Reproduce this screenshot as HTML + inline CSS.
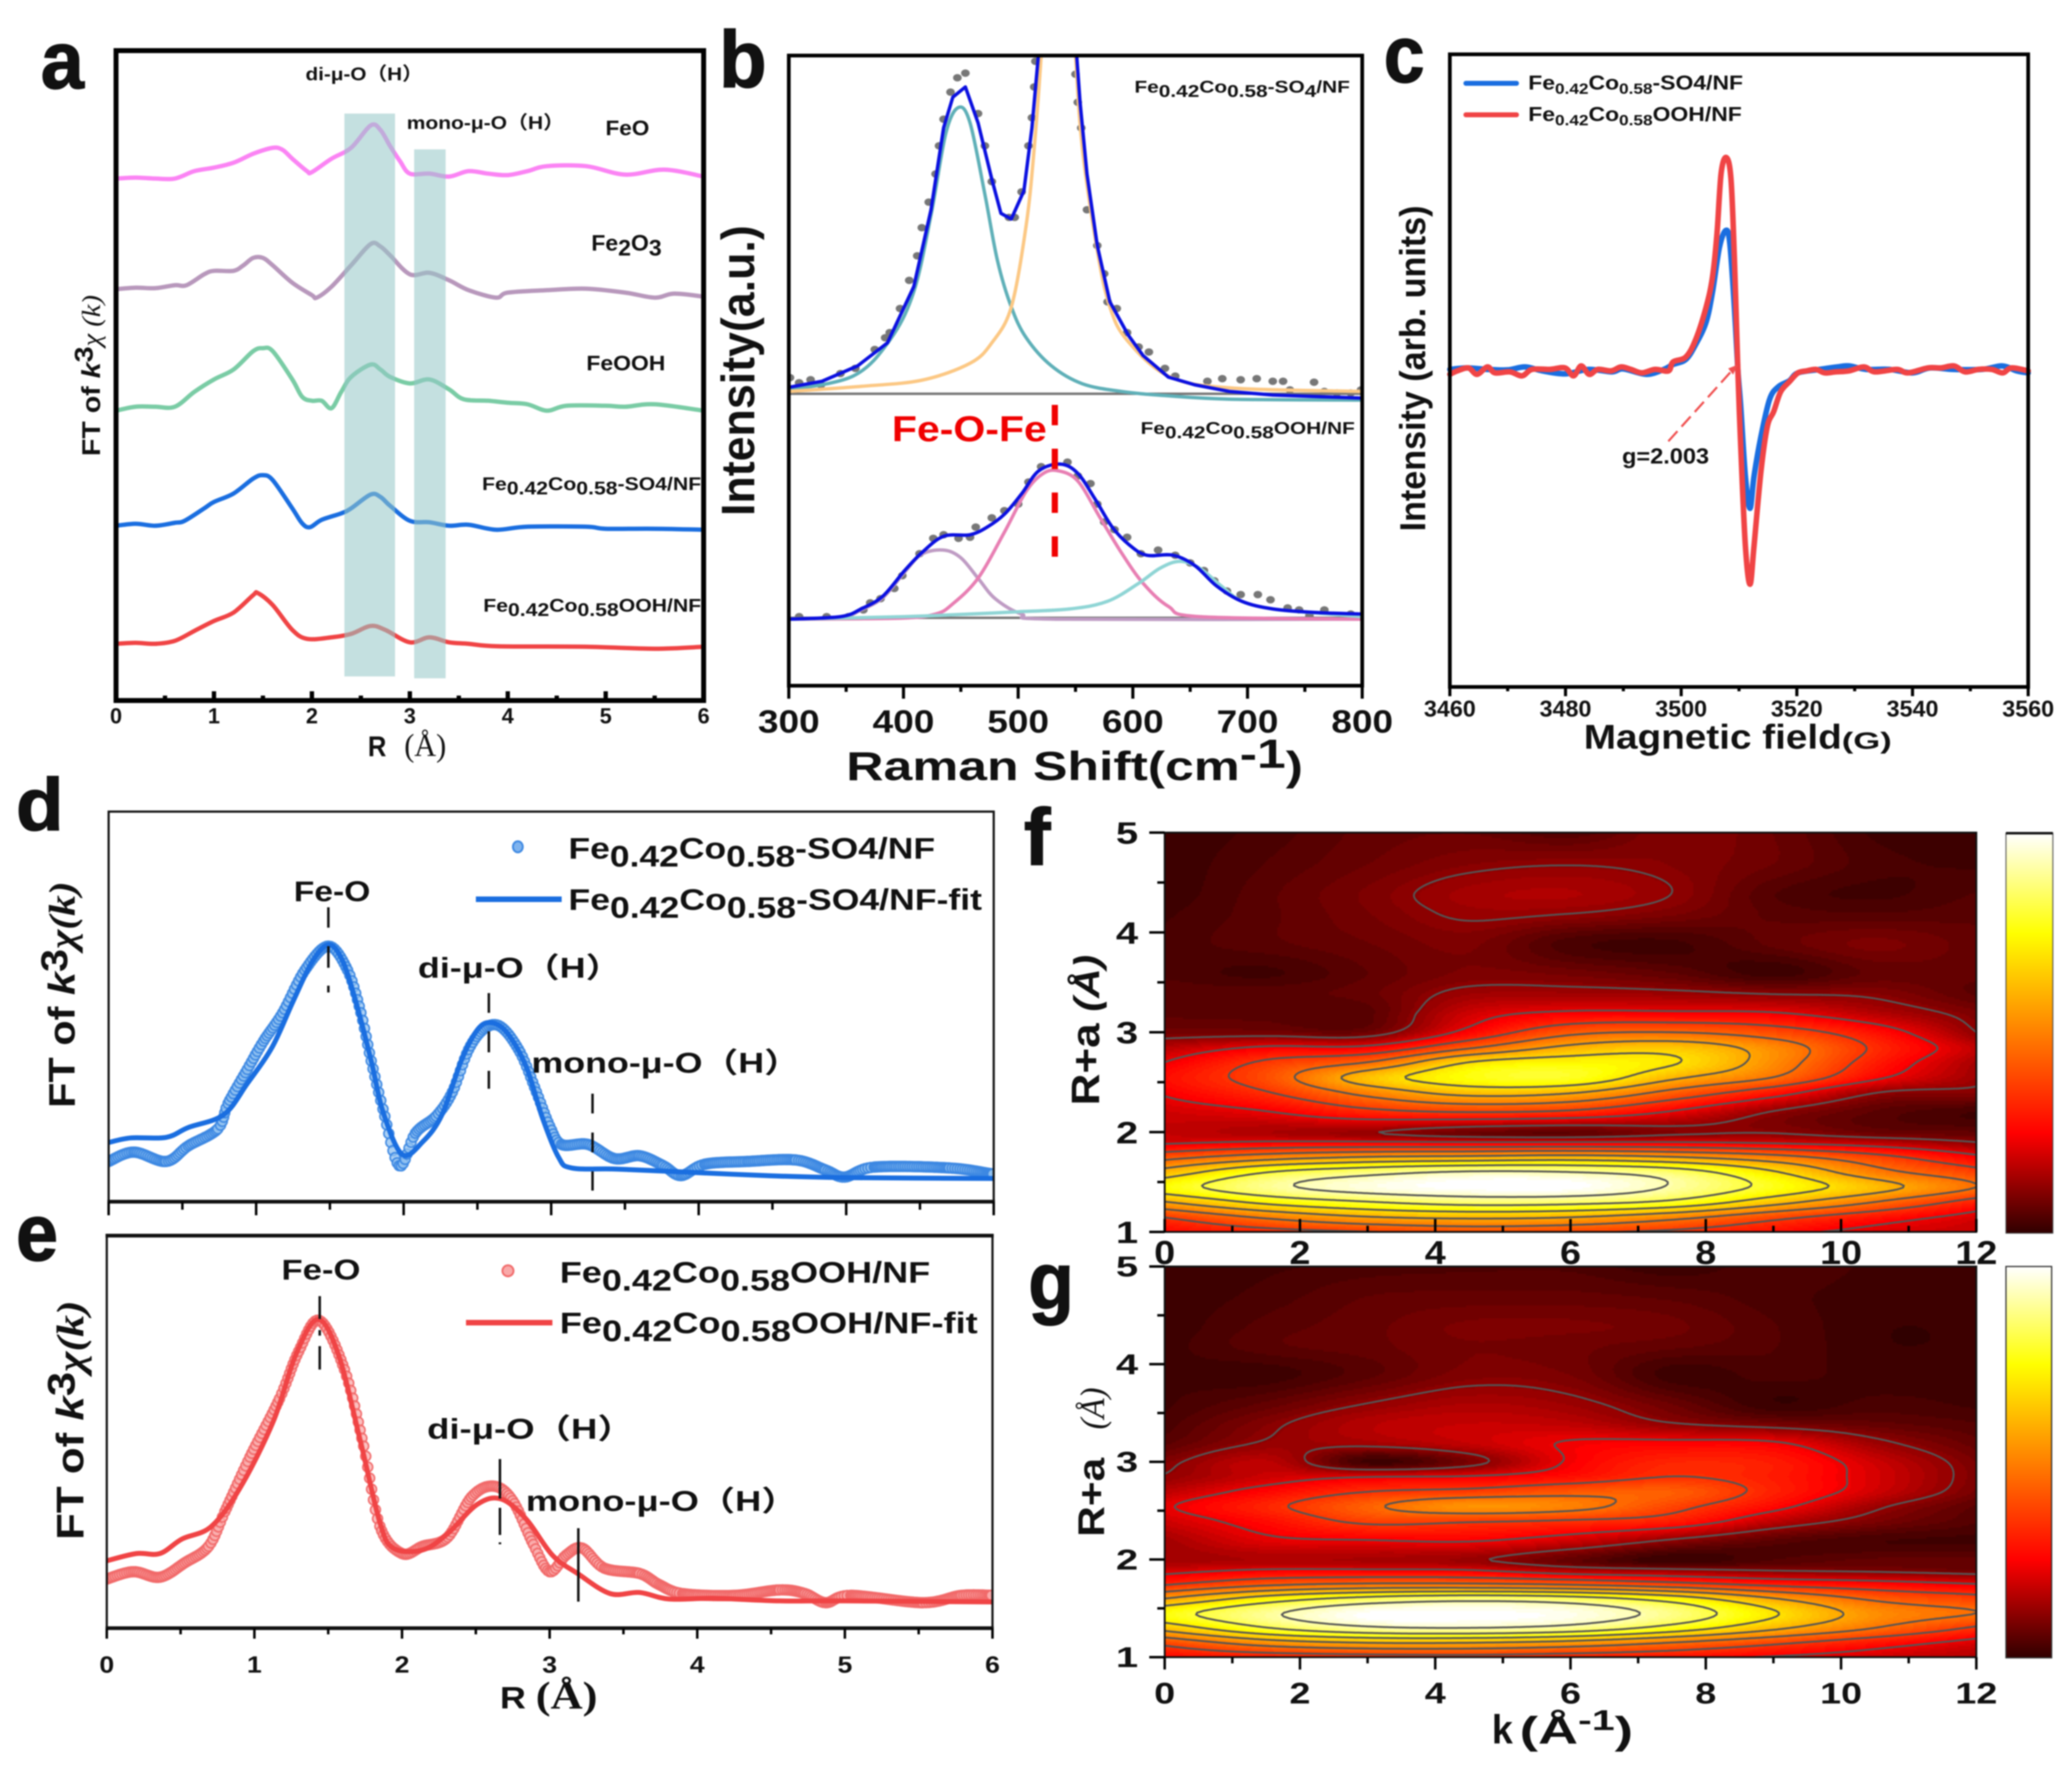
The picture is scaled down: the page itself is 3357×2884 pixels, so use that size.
<!DOCTYPE html>
<html lang="en">
<head>
<meta charset="utf-8">
<title>Fe-Co characterisation figure</title>
<style>
html,body{margin:0;padding:0;background:#fff;}
svg{display:block;font-family:"Liberation Sans","Noto Sans CJK SC",sans-serif;filter:blur(1px);}
.b{font-weight:bold;fill:#111;}
.sf{font-family:"Liberation Serif",serif;font-weight:normal;}
.sfb{font-family:"Liberation Serif",serif;font-weight:bold;}
.l{stroke:#111;stroke-width:3;}
</style>
</head>
<body>
<svg id="fig" xmlns="http://www.w3.org/2000/svg" width="3357" height="2884" viewBox="0 0 3357 2884">
<defs>
<clipPath id="clip-b"><rect x="1278" y="90" width="929" height="1021"/></clipPath>
<clipPath id="clip-d"><rect x="176" y="1315" width="1434" height="632"/></clipPath>
<clipPath id="clip-e"><rect x="173" y="2002" width="1435" height="636"/></clipPath>
<linearGradient id="cbar" x1="0" y1="1" x2="0" y2="0">
<stop offset="0" stop-color="#300000"/><stop offset="0.25" stop-color="#ff0000"/><stop offset="0.75" stop-color="#ffff00"/><stop offset="1" stop-color="#ffffff"/>
</linearGradient>
</defs>
<rect x="0" y="0" width="3357" height="2884" fill="#fff"/>

<!-- PANEL A -->
<g>
<g id="a-series"></g>
<rect x="558" y="184" width="82" height="912" fill="rgb(150,200,200)" opacity="0.56"/>
<rect x="671" y="242" width="51" height="857" fill="rgb(150,200,200)" opacity="0.56"/>
<rect x="188" y="82" width="952" height="1053" fill="none" stroke="#000" stroke-width="8"/>
<g id="a-axis"></g>
<text class="b" x="66" y="143" font-size="132" stroke="#111" stroke-width="2" textLength="70" lengthAdjust="spacingAndGlyphs">a</text>
<text class="b" x="495" y="130" font-size="30" textLength="190" lengthAdjust="spacingAndGlyphs">di-μ-O（H）</text>
<text class="b" x="659" y="209" font-size="30" textLength="255" lengthAdjust="spacingAndGlyphs">mono-μ-O（H）</text>
<text class="b" x="981" y="219" font-size="34" textLength="71" lengthAdjust="spacingAndGlyphs">FeO</text>
<text class="b" x="958" y="406" font-size="36" textLength="114" lengthAdjust="spacingAndGlyphs">Fe<tspan dy="8">2</tspan><tspan dy="-8">O</tspan><tspan dy="8">3</tspan></text>
<text class="b" x="950" y="600" font-size="34" textLength="128" lengthAdjust="spacingAndGlyphs">FeOOH</text>
<text class="b" x="781" y="794" font-size="30" textLength="355" lengthAdjust="spacingAndGlyphs">Fe<tspan dy="7">0.42</tspan><tspan dy="-7">Co</tspan><tspan dy="7">0.58</tspan><tspan dy="-7">-SO4/NF</tspan></text>
<text class="b" x="783" y="991" font-size="30" textLength="353" lengthAdjust="spacingAndGlyphs">Fe<tspan dy="7">0.42</tspan><tspan dy="-7">Co</tspan><tspan dy="7">0.58</tspan><tspan dy="-7">OOH/NF</tspan></text>
<text class="b" x="596" y="1225" font-size="46" textLength="30" lengthAdjust="spacingAndGlyphs">R</text>
<text class="sf" x="655" y="1225" font-size="52" fill="#111" textLength="68" lengthAdjust="spacingAndGlyphs">(Å)</text>
<text class="b" transform="translate(162,739) rotate(-90)" font-size="42" textLength="261" lengthAdjust="spacingAndGlyphs">FT of <tspan font-style="italic">k</tspan><tspan dy="-12">3</tspan><tspan dy="12" class="sf" font-style="italic">χ (k)</tspan></text>
</g>

<!-- PANEL B -->
<g>
<g id="b-dots" clip-path="url(#clip-b)"></g>
<line x1="1278" y1="638" x2="2207" y2="638" stroke="#777" stroke-width="4"/>
<line x1="1278" y1="1001" x2="2207" y2="1001" stroke="#777" stroke-width="4"/>
<g id="b-series" clip-path="url(#clip-b)"></g>
<rect x="1278" y="90" width="929" height="1021" fill="none" stroke="#000" stroke-width="6"/>
<g id="b-axis"></g>
<text class="b" x="1165" y="141" font-size="130" stroke="#111" stroke-width="2" textLength="77" lengthAdjust="spacingAndGlyphs">b</text>
<line x1="1709" y1="656" x2="1709" y2="912" stroke="#f00000" stroke-width="10" stroke-dasharray="33 38"/>
<text x="1445" y="715" font-size="58" font-weight="bold" fill="#f00000" textLength="251" lengthAdjust="spacingAndGlyphs">Fe-O-Fe</text>
<text class="b" x="1838" y="150" font-size="28" textLength="349" lengthAdjust="spacingAndGlyphs">Fe<tspan dy="7">0.42</tspan><tspan dy="-7">Co</tspan><tspan dy="7">0.58</tspan><tspan dy="-7">-SO</tspan><tspan dy="7">4</tspan><tspan dy="-7">/NF</tspan></text>
<text class="b" x="1848" y="703" font-size="28" textLength="347" lengthAdjust="spacingAndGlyphs">Fe<tspan dy="7">0.42</tspan><tspan dy="-7">Co</tspan><tspan dy="7">0.58</tspan><tspan dy="-7">OOH/NF</tspan></text>
<text class="b" x="1371" y="1264" font-size="66" textLength="740" lengthAdjust="spacingAndGlyphs">Raman Shift(cm<tspan dy="-20">-1</tspan><tspan dy="20">)</tspan></text>
<text class="b" transform="translate(1222,836) rotate(-90)" font-size="76" textLength="471" lengthAdjust="spacingAndGlyphs">Intensity(a.u.)</text>
</g>

<!-- PANEL C -->
<g>
<g id="c-series"></g>
<rect x="2349" y="88" width="937" height="1025" fill="none" stroke="#000" stroke-width="6"/>
<g id="c-axis"></g>
<text class="b" x="2242" y="133" font-size="130" stroke="#111" stroke-width="2" textLength="66" lengthAdjust="spacingAndGlyphs">c</text>
<line x1="2375" y1="135" x2="2457" y2="135" stroke="#1a6ee0" stroke-width="8" stroke-linecap="round"/>
<line x1="2375" y1="186" x2="2457" y2="186" stroke="#f04445" stroke-width="8" stroke-linecap="round"/>
<text class="b" x="2476" y="145" font-size="32" textLength="348" lengthAdjust="spacingAndGlyphs">Fe<tspan dy="7" font-size="24">0.42</tspan><tspan dy="-7">Co</tspan><tspan dy="7" font-size="24">0.58</tspan><tspan dy="-7">-SO4/NF</tspan></text>
<text class="b" x="2476" y="196" font-size="32" textLength="346" lengthAdjust="spacingAndGlyphs">Fe<tspan dy="7" font-size="24">0.42</tspan><tspan dy="-7">Co</tspan><tspan dy="7" font-size="24">0.58</tspan><tspan dy="-7">OOH/NF</tspan></text>
<line x1="2703" y1="715" x2="2810" y2="596" stroke="#f05050" stroke-width="3.5" stroke-dasharray="22 10"/>
<polygon points="2815,591 2800,597 2808,607" fill="#f05050"/>
<text class="b" x="2628" y="751" font-size="35" textLength="141" lengthAdjust="spacingAndGlyphs">g=2.003</text>
<text class="b" x="2566" y="1213" font-size="56" textLength="418" lengthAdjust="spacingAndGlyphs">Magnetic field</text>
<text class="b" x="2984" y="1213" font-size="38" textLength="81" lengthAdjust="spacingAndGlyphs">(G)</text>
<text class="b" transform="translate(2309,861) rotate(-90)" font-size="58" textLength="528" lengthAdjust="spacingAndGlyphs">Intensity (arb. units)</text>
</g>

<!-- PANEL D -->
<g>
<g id="d-dots" clip-path="url(#clip-d)"></g>
<g id="d-series" clip-path="url(#clip-d)"></g>
<rect x="176" y="1315" width="1434" height="632" fill="none" stroke="#111" stroke-width="3.5"/>
<line x1="174" y1="1947" x2="1612" y2="1947" stroke="#111" stroke-width="6"/>
<g id="d-axis"></g>
<text class="b" x="26" y="1345" font-size="120" stroke="#111" stroke-width="2" textLength="77" lengthAdjust="spacingAndGlyphs">d</text>
<text class="b" x="476" y="1460" font-size="46" textLength="124" lengthAdjust="spacingAndGlyphs">Fe-O</text>
<text class="b" x="677" y="1584" font-size="46" textLength="330" lengthAdjust="spacingAndGlyphs">di-μ-O（H）</text>
<text class="b" x="861" y="1738" font-size="46" textLength="435" lengthAdjust="spacingAndGlyphs">mono-μ-O（H）</text>
<path d="M532 1470V1503M532 1533V1568M532 1597V1608M792 1609V1641M792 1671V1705M792 1735V1764M960 1772V1804M960 1835V1867M960 1898V1929" stroke="#111" stroke-width="4" fill="none"/>
<ellipse cx="839" cy="1372" rx="8" ry="9" fill="#7fb3ee" stroke="#3d88e2" stroke-width="3"/>
<line x1="771" y1="1457" x2="910" y2="1457" stroke="#1a6ee0" stroke-width="9"/>
<text class="b" x="921" y="1391" font-size="48" textLength="594" lengthAdjust="spacingAndGlyphs">Fe<tspan dy="13">0.42</tspan><tspan dy="-13">Co</tspan><tspan dy="13">0.58</tspan><tspan dy="-13">-SO4/NF</tspan></text>
<text class="b" x="921" y="1474" font-size="48" textLength="670" lengthAdjust="spacingAndGlyphs">Fe<tspan dy="13">0.42</tspan><tspan dy="-13">Co</tspan><tspan dy="13">0.58</tspan><tspan dy="-13">-SO4/NF-fit</tspan></text>
<text class="b" transform="translate(121,1795) rotate(-90)" font-size="60" textLength="367" lengthAdjust="spacingAndGlyphs">FT of <tspan font-style="italic">k</tspan><tspan dy="-12">3</tspan><tspan dy="12" class="sfb" font-style="italic">χ(k)</tspan></text>
</g>

<!-- PANEL E -->
<g>
<g id="e-dots" clip-path="url(#clip-e)"></g>
<g id="e-series" clip-path="url(#clip-e)"></g>
<rect x="173" y="2002" width="1435" height="636" fill="none" stroke="#111" stroke-width="3.5"/>
<line x1="171" y1="2002" x2="1610" y2="2002" stroke="#111" stroke-width="6"/>
<line x1="171" y1="2638" x2="1610" y2="2638" stroke="#111" stroke-width="6"/>
<g id="e-axis"></g>
<text class="b" x="26" y="2042" font-size="130" stroke="#111" stroke-width="2" textLength="68" lengthAdjust="spacingAndGlyphs">e</text>
<text class="b" x="456" y="2073" font-size="46" textLength="128" lengthAdjust="spacingAndGlyphs">Fe-O</text>
<text class="b" x="692" y="2331" font-size="46" textLength="335" lengthAdjust="spacingAndGlyphs">di-μ-O（H）</text>
<text class="b" x="852" y="2448" font-size="46" textLength="440" lengthAdjust="spacingAndGlyphs">mono-μ-O（H）</text>
<path d="M518 2100V2137M518 2155V2164M518 2181V2219M810 2364V2428M810 2443V2487M810 2499V2502M937 2476V2595" stroke="#111" stroke-width="4" fill="none"/>
<ellipse cx="823" cy="2059" rx="9" ry="9" fill="#f9a9a9" stroke="#f16a6a" stroke-width="3"/>
<line x1="755" y1="2143" x2="895" y2="2143" stroke="#f04445" stroke-width="9"/>
<text class="b" x="907" y="2078" font-size="48" textLength="600" lengthAdjust="spacingAndGlyphs">Fe<tspan dy="13">0.42</tspan><tspan dy="-13">Co</tspan><tspan dy="13">0.58</tspan><tspan dy="-13">OOH/NF</tspan></text>
<text class="b" x="907" y="2160" font-size="48" textLength="677" lengthAdjust="spacingAndGlyphs">Fe<tspan dy="13">0.42</tspan><tspan dy="-13">Co</tspan><tspan dy="13">0.58</tspan><tspan dy="-13">OOH/NF-fit</tspan></text>
<text class="b" x="810" y="2768" font-size="50" textLength="42" lengthAdjust="spacingAndGlyphs">R</text>
<text class="sfb" x="868" y="2768" font-size="62" fill="#111" textLength="100" lengthAdjust="spacingAndGlyphs">(Å)</text>
<text class="b" transform="translate(135,2495) rotate(-90)" font-size="62" textLength="388" lengthAdjust="spacingAndGlyphs">FT of <tspan font-style="italic">k</tspan><tspan dy="-14">3</tspan><tspan dy="14" class="sfb" font-style="italic">χ(k)</tspan></text>
</g>

<!-- PANEL F -->
<g>
<g id="f-heat" shape-rendering="crispEdges"></g>
<g id="f-contours"></g>
<rect x="1887" y="1349" width="1315" height="647" fill="none" stroke="#111" stroke-width="3"/>
<g id="f-axis"></g>
<rect x="3250" y="1350" width="76" height="648" fill="url(#cbar)" stroke="#444" stroke-width="1.5"/>
<line x1="3250" y1="1350" x2="3326" y2="1350" stroke="#111" stroke-width="4"/>
<text class="b" x="1659" y="1401" font-size="130" stroke="#111" stroke-width="2" textLength="43" lengthAdjust="spacingAndGlyphs">f</text>
<text class="b" transform="translate(1781,1791) rotate(-90)" font-size="64" textLength="133" lengthAdjust="spacingAndGlyphs">R+a</text>
<text class="b" transform="translate(1781,1639) rotate(-90)" font-size="58" font-style="italic" textLength="92" lengthAdjust="spacingAndGlyphs">(Å)</text>
</g>

<!-- PANEL G -->
<g>
<g id="g-heat" shape-rendering="crispEdges"></g>
<g id="g-contours"></g>
<rect x="1887" y="2052" width="1315" height="633" fill="none" stroke="#111" stroke-width="3"/>
<g id="g-axis"></g>
<rect x="3250" y="2052" width="74" height="634" fill="url(#cbar)" stroke="#333" stroke-width="2"/>
<text class="b" x="1666" y="2120" font-size="130" stroke="#111" stroke-width="2" textLength="74" lengthAdjust="spacingAndGlyphs">g</text>
<text class="b" transform="translate(1789,2490) rotate(-90)" font-size="60" textLength="128" lengthAdjust="spacingAndGlyphs">R+a</text>
<text class="sf" transform="translate(1789,2316) rotate(-90)" font-size="56" fill="#111" font-style="italic" textLength="68" lengthAdjust="spacingAndGlyphs">(Å)</text>
<text class="b" x="2417" y="2825" font-size="66" textLength="34" lengthAdjust="spacingAndGlyphs">k</text>
<text class="b" x="2462" y="2825" font-size="62" textLength="184" lengthAdjust="spacingAndGlyphs">(Å<tspan dy="-22" font-size="46">-1</tspan><tspan dy="22">)</tspan></text>
</g>
</svg>

<script>
// ---------- Panel a: R (Å) and stacked FT intensity (arbitrary units)
const feoR=[0,.2,.4,.6,.8,1,1.2,1.4,1.6,1.7,1.8,1.95,2,2.2,2.4,2.6,2.7,2.8,2.9,3,3.2,3.4,3.6,3.8,4,4.2,4.4,4.8,5.2,5.6,6];
const feoI=[1053,1055,1053,1053,1068,1075,1085,1103,1115,1111,1093,1068,1066,1093,1115,1160,1151,1118,1088,1063,1063,1057,1068,1063,1060,1068,1078,1078,1061,1071,1057];
const fe2o3R=[0,.2,.4,.6,.72,.9,1,1.2,1.3,1.4,1.5,1.6,1.8,2,2.05,2.2,2.4,2.6,2.7,2.8,3,3.2,3.4,3.6,3.88,4,4.4,4.8,5.2,5.5,5.7,6];
const fe2o3I=[830,833,832,838,838,860,867,867,878,893,893,878,843,818,813,835,878,921,916,898,860,863,848,828,813,823,828,831,823,813,821,815];
const feoohR=[0,.2,.4,.6,.8,1,1.2,1.4,1.5,1.6,1.8,1.9,2,2.1,2.2,2.3,2.4,2.6,2.7,2.8,3,3.2,3.4,3.55,3.8,4,4.2,4.4,4.6,5,5.2,5.5,6];
const feoohI=[585,593,593,593,623,648,668,705,711,705,648,613,605,605,590,623,653,678,668,653,640,648,628,608,605,601,598,585,595,595,593,598,585];
const so4R=[0,.2,.4,.6,.7,.9,1,1.2,1.4,1.5,1.6,1.8,1.9,1.98,2.1,2.3,2.4,2.6,2.7,2.8,3,3.2,3.4,3.6,3.88,4.2,4.8,5,5.5,6];
const so4I=[353,357,353,359,363,388,401,418,448,455,445,388,358,350,365,378,388,416,411,393,363,360,353,355,345,351,351,347,347,345];
const oohR=[0,.2,.4,.6,.8,1,1.2,1.4,1.45,1.6,1.8,1.95,2.2,2.4,2.6,2.75,3,3.2,3.4,3.6,3.9,4.8,5.5,6];
const oohI=[115,117,115,121,141,161,178,213,217,193,143,125,128,135,151,143,118,128,118,115,110,109,105,109];
const aTicks=[0,1,2,3,4,5,6];
const aMinor=[.5,1.5,2.5,3.5,4.5,5.5];

// ---------- Panel b: Raman shift (cm-1) and intensity (arbitrary units)
const b1TotalX=[300,329,360,386,409,424,435,443,454,465,477,485,494,505,512,518,525,535,545,551,554,560,569,580,596,609,631,654,684,722,760,800];
const b1TotalI=[583,595,625,670,780,930,1090,1150,1170,1100,990,923,912,967,1090,1240,1500,1800,1500,1232,1140,1000,860,750,685,645,603,588,575,568,565,562];
const b1TealX=[300,356,388,409,424,437,448,458,471,482,494,507,529,556,590,628,684,800];
const b1TealI=[578,605,675,770,920,1080,1130,1100,960,830,740,680,625,590,575,567,560,558];
const b1OrangeX=[300,363,416,458,477,494,507,514,520,527,535,543,550,556,569,580,595,631,684,800];
const b1OrangeI=[575,585,597,630,670,740,900,1050,1230,1500,1800,1500,1232,1050,850,740,675,605,582,575];
const b1DotX=[301,309,319,328,345,358,375,384,388,397,405,412,416,422,428,431,435,441,447,454,465,471,477,492,497,503,509,512,514,515,550,552,555,560,569,575,578,586,595,605,614,628,637,665,678,694,708,722,731,737,758,767,778,790,799];
const b1DotI=[602,592,598,588,610,620,657,680,690,737,792,840,895,945,1000,1055,1107,1160,1188,1197,1118,1055,985,915,915,965,1055,1110,1170,1220,1195,1140,1090,930,860,805,750,737,690,662,652,620,605,595,600,598,600,595,595,578,593,575,572,572,578];
const b2TotalX=[300,345,363,382,401,416,435,458,473,488,503,518,537,552,567,582,597,612,635,654,673,695,722,760,800];
const b2TotalI=[130,135,150,175,225,260,292,295,310,335,375,420,433,415,365,310,275,255,255,235,195,165,150,143,140];
const b2MauveX=[300,345,363,382,401,416,435,450,465,480,503,533,800];
const b2MauveI=[130,133,148,172,222,257,265,250,210,170,140,130,130];
const b2PinkX=[300,397,428,443,465,488,507,522,535,552,571,590,609,631,658,800];
const b2PinkI=[130,132,140,160,210,300,380,415,420,400,330,260,200,155,135,130];
const b2CyanX=[300,401,458,495,545,578,605,624,641,658,677,695,722,760,800];
const b2CyanI=[130,135,140,144,150,165,200,230,243,230,195,165,150,142,135];
const b2DotX=[309,333,352,365,371,380,392,399,414,426,435,448,458,463,477,488,500,509,520,543,552,563,569,575,584,595,607,622,637,650,662,671,682,694,709,720,735,745,754,767,790];
const b2DotI=[135,135,135,148,162,170,190,215,258,288,295,288,290,310,328,342,355,398,428,437,410,395,355,320,305,290,258,265,255,240,225,205,185,178,178,168,152,148,137,148,140];
const bTicks=[300,400,500,600,700,800];
const bMinor=[350,450,550,650,750];

// ---------- Panel c: magnetic field (G) and EPR intensity (arbitrary units)
const cBlueX=[3460,3463,3466.5,3470,3473,3476,3480,3484,3488,3490,3494,3497,3498.6,3500.8,3502.5,3504.3,3505.4,3506.6,3507.7,3508.4,3509.2,3509.8,3510.3,3511.1,3511.9,3512.6,3513.8,3515.3,3516.8,3518.7,3520.2,3524,3527,3529,3532,3536,3540,3543,3547,3552,3555.5,3558,3560];
const cBlueI=[640,643,640,639,645,637,631,640,635,641,630,640,650,660,690,735,795,885,920,895,765,640,565,425,360,425,505,580,605,617,633,640,645,647,640,640,633,643,640,640,647,637,633];
const cRedX=[3460,3461.3,3463.2,3464.7,3466.5,3467.8,3470.4,3472.5,3474.2,3477.3,3479.9,3481.4,3482.7,3484.1,3485.6,3487.9,3489.6,3491.3,3493.2,3495.5,3497.8,3498.6,3500.8,3502.5,3504.3,3505.4,3506.2,3506.9,3507.8,3508.6,3509.2,3509.8,3510.3,3511.1,3511.9,3512.6,3513.8,3514.9,3516,3517.2,3518.7,3520.2,3521.7,3523.3,3524.8,3526.7,3529,3531.6,3533.5,3537.3,3539.2,3542.7,3544.9,3547.2,3549.1,3551.4,3553.7,3555.6,3557.1,3560];
const cRedI=[630,637,643,630,645,633,635,627,640,640,643,627,647,630,640,637,645,640,633,640,637,655,665,700,765,825,915,1035,1067,1025,865,640,485,285,207,285,435,525,555,595,615,633,637,640,633,635,637,645,635,640,633,643,643,647,635,640,640,633,643,637];
const cTicks=[3460,3480,3500,3520,3540,3560];
const cMinor=[3470,3490,3510,3530,3550];

// ---------- Panel d
const dFitR=[0,.15,.39,.54,.78,.94,1.11,1.25,1.38,1.49,1.58,1.67,1.78,1.86,1.99,2.13,2.26,2.39,2.5,2.59,2.7,2.83,2.94,3.05,3.14,3.45,3.89,4.46,4.99,6];
const dFitI=[209,225,227,262,307,417,547,707,847,907,857,717,497,317,167,212,307,497,607,632,597,477,297,157,119,115,105,92,85,82];
const dDataR=[0,.17,.39,.54,.74,.81,.94,1.05,1.18,1.33,1.49,1.62,1.71,1.78,1.86,1.97,2.08,2.22,2.33,2.44,2.55,2.66,2.79,2.9,2.99,3.07,3.25,3.43,3.6,3.76,3.88,4.04,4.33,4.66,4.86,4.99,5.19,5.7,6];
const dDataI=[142,175,142,197,257,347,467,567,667,817,902,817,667,497,327,127,242,302,387,537,612,617,527,387,267,202,202,152,162,127,92,132,142,147,112,87,122,119,97];

// ---------- Panel e
const eFitR=[0,.2,.36,.51,.71,.91,1.13,1.28,1.43,1.57,1.72,1.85,1.94,2.14,2.31,2.51,2.67,2.84,3.02,3.19,3.41,3.61,3.81,4.12,4.56,5,6];
const eFitI=[185,205,205,245,280,390,570,750,848,750,510,290,220,215,260,340,355,300,200,150,95,98,80,82,75,75,72];
const eDataR=[0,.18,.36,.53,.69,.8,.97,1.17,1.3,1.44,1.61,1.74,1.85,2,2.14,2.31,2.47,2.62,2.75,2.89,3,3.11,3.22,3.37,3.61,3.74,3.9,4.25,4.56,4.73,4.87,5.04,5.53,5.79,6];
const eDataI=[135,155,140,180,225,320,470,630,760,845,710,500,280,205,225,250,360,390,350,230,155,200,220,165,150,120,95,90,105,95,70,90,70,90,90];
const rTicks=[0,1,2,3,4,5,6];
const rMinor=[.5,1.5,2.5,3.5,4.5,5.5];

// ---------- Panels f / g: wavelet magnitude (0-1) on k (columns) x R (rows)
const waveletK=[0,1.5,3,4.5,6,7.5,9,10.5,12];
const waveletR=[1,1.15,1.3,1.45,1.6,1.75,1.9,2,2.2,2.4,2.55,2.7,2.85,3,3.2,3.4,3.6,3.9,4.2,4.4,4.7,5];
const waveletF=[
[.25,.30,.34,.38,.36,.32,.26,.20,.18],
[.35,.48,.57,.60,.58,.50,.38,.28,.20],
[.57,.72,.80,.85,.84,.78,.62,.46,.30],
[.75,.89,.97,1,1,.91,.77,.62,.46],
[.62,.80,.88,.93,.92,.86,.70,.50,.38],
[.42,.52,.58,.60,.62,.58,.50,.38,.25],
[.21,.24,.24,.23,.23,.23,.21,.17,.115],
[.18,.15,.12,.07,.055,.10,.11,.07,.06],
[.19,.225,.31,.345,.32,.22,.11,.05,.02],
[.24,.34,.50,.62,.59,.43,.28,.12,.10],
[.27,.40,.63,.76,.78,.60,.46,.25,.13],
[.23,.36,.46,.69,.74,.70,.52,.30,.14],
[.165,.24,.25,.44,.60,.64,.52,.33,.17],
[.085,.085,.08,.26,.43,.46,.40,.28,.115],
[.05,.05,.05,.19,.24,.24,.23,.16,.09],
[.05,.05,.065,.13,.135,.125,.105,.10,.05],
[.035,.02,.055,.09,.08,.055,.015,.06,.06],
[.03,.05,.07,.09,.03,.02,.06,.09,.06],
[.02,.05,.085,.125,.118,.09,.05,.04,.05],
[.01,.05,.09,.14,.15,.115,.04,.02,.04],
[.01,.04,.07,.10,.11,.10,.07,.03,.02],
[.01,.03,.06,.07,.045,.10,.07,.02,.015]];
const waveletG=[
[.25,.27,.29,.30,.28,.26,.22,.18,.15],
[.38,.52,.58,.58,.54,.46,.37,.28,.20],
[.62,.80,.90,.92,.88,.76,.60,.46,.33],
[.76,.90,1,1,.98,.88,.70,.53,.46],
[.575,.74,.84,.88,.85,.75,.58,.44,.38],
[.33,.43,.47,.47,.44,.38,.31,.27,.23],
[.19,.23,.23,.22,.15,.12,.10,.09,.07],
[.14,.15,.145,.125,.06,.01,.04,.06,.06],
[.14,.215,.23,.24,.19,.11,.05,.025,.02],
[.19,.27,.37,.36,.34,.30,.17,.09,.04],
[.22,.32,.44,.54,.50,.38,.26,.13,.05],
[.17,.26,.34,.37,.42,.43,.31,.19,.08],
[.12,.19,.225,.235,.28,.345,.30,.20,.09],
[.10,.17,.02,.09,.24,.32,.30,.19,.085],
[.05,.12,.14,.18,.235,.245,.235,.13,.06],
[.03,.10,.16,.18,.17,.115,.08,.06,.04],
[.02,.06,.115,.15,.13,.07,.01,.03,.02],
[.02,.015,.05,.095,.085,.015,.03,.015,.015],
[.015,.05,.065,.085,.075,.06,.04,.01,.01],
[.01,.045,.065,.09,.09,.075,.04,.01,.01],
[.01,.03,.055,.06,.06,.05,.03,.015,.01],
[.01,.02,.03,.035,.035,.012,.035,.02,.015]];
const contourLevels=[.115,.23,.345,.46,.575,.69,.805,.92];
const kTicks=[0,2,4,6,8,10,12];
const kMinor=[1,3,5,7,9,11];
const rowTicks=[1,2,3,4,5];
const rowMinor=[1.5,2.5,3.5,4.5];

// ---------- helpers
const NS='http://www.w3.org/2000/svg';
const $=id=>document.getElementById(id);
function scale(d0,d1,r0,r1){return v=>r0+(v-d0)*(r1-r0)/(d1-d0);}
function node(tag,attrs,parent){
  const el=document.createElementNS(NS,tag);
  for(const k in attrs)el.setAttribute(k,attrs[k]);
  parent.appendChild(el);
  return el;
}
function smoothD(px,py){
  let d='M'+px[0].toFixed(1)+' '+py[0].toFixed(1);
  for(let i=0;i<px.length-1;i++){
    const a=Math.max(i-1,0),b=i,c=i+1,e=Math.min(i+2,px.length-1);
    const c1x=px[b]+(px[c]-px[a])/6,c1y=py[b]+(py[c]-py[a])/6;
    const c2x=px[c]-(px[e]-px[b])/6,c2y=py[c]-(py[e]-py[b])/6;
    d+='C'+c1x.toFixed(1)+' '+c1y.toFixed(1)+' '+c2x.toFixed(1)+' '+c2y.toFixed(1)+' '+px[c].toFixed(1)+' '+py[c].toFixed(1);
  }
  return d;
}
function curve(parent,sx,sy,xs,ys,color,width,straight){
  const px=xs.map(sx),py=ys.map(sy);
  const d=straight?'M'+px.map((x,i)=>x.toFixed(1)+' '+py[i].toFixed(1)).join('L'):smoothD(px,py);
  return node('path',{d:d,fill:'none',stroke:color,'stroke-width':width,'stroke-linejoin':'round','stroke-linecap':'round'},parent);
}
function tickLine(parent,x1,y1,x2,y2,w){
  return node('line',{x1:x1,y1:y1,x2:x2,y2:y2,stroke:'#000','stroke-width':w},parent);
}
function tickText(parent,x,y,str,size,anchor,len){
  const attrs={x:x,y:y,'font-size':size,'font-weight':'bold',fill:'#111','text-anchor':anchor};
  if(len){attrs.textLength=len;attrs.lengthAdjust='spacingAndGlyphs';}
  const el=node('text',attrs,parent);
  el.textContent=str;
  return el;
}
function ringDots(parent,sx,sy,xs,ys,step,fill,stroke){
  for(let i=0;i<xs.length-1;i++){
    const n=Math.max(1,Math.ceil((xs[i+1]-xs[i])/step));
    const a=Math.max(i-1,0),e=Math.min(i+2,xs.length-1);
    for(let s=0;s<n;s++){
      const t=s/n,t2=t*t,t3=t2*t;
      const cr=(q)=>0.5*((2*q[i])+(-q[a]+q[i+1])*t+(2*q[a]-5*q[i]+4*q[i+1]-q[e])*t2+(-q[a]+3*q[i]-3*q[i+1]+q[e])*t3);
      const dot=node('circle',{cx:sx(cr(xs)).toFixed(1),cy:sy(cr(ys)).toFixed(1),r:8,fill:fill,stroke:stroke,'stroke-width':2.5,'fill-opacity':.75},parent);
      
      
    }
  }
}
function scatter(parent,sx,sy,xs,ys){
  xs.forEach((x,i)=>{
    const dot=node('ellipse',{cx:sx(x).toFixed(1),cy:sy(ys[i]).toFixed(1),rx:7,ry:6,fill:'#777'},parent);
    
    
  });
}

// ---------- panel a
{
  const sx=scale(0,6,188,1140),sy=scale(0,1310,1135.5,82.8),g=$('a-series');
  let el;
  el=curve(g,sx,sy,feoR,feoI,'#fb84f4',7);
  
  
  el=curve(g,sx,sy,fe2o3R,fe2o3I,'#b898bc',7);
  
  
  el=curve(g,sx,sy,feoohR,feoohI,'#7acca5',7);
  
  
  el=curve(g,sx,sy,so4R,so4I,'#1a6ee0',7);
  
  
  el=curve(g,sx,sy,oohR,oohI,'#f04445',7);
  
  
  const ax=$('a-axis');
  aTicks.forEach(v=>{
    const t=tickLine(ax,sx(v),1135,sx(v),1120,7);
    
    
    const l=tickText(ax,sx(v),1172,String(v),35,'middle');
    
    
  });
  aMinor.forEach(v=>{
    const t=tickLine(ax,sx(v),1135,sx(v),1127,7);
    
    
  });
}

// ---------- panel b
{
  const sx=scale(300,800,1278,2207),sy=scale(0,1232,1111,89.5),g=$('b-series'),dots=$('b-dots');
  scatter(dots,sx,sy,b1DotX,b1DotI);
  scatter(dots,sx,sy,b2DotX,b2DotI);
  let el;
  el=curve(g,sx,sy,b1TealX,b1TealI,'#5fb0b8',5.5);
  
  
  el=curve(g,sx,sy,b1OrangeX,b1OrangeI,'#fcc884',5.5);
  
  
  el=curve(g,sx,sy,b1TotalX,b1TotalI,'#0b10e0',5.5,true);
  
  
  el=curve(g,sx,sy,b2MauveX,b2MauveI,'#bf9cc4',5.5);
  
  
  el=curve(g,sx,sy,b2PinkX,b2PinkI,'#e87fb3',5.5);
  
  
  el=curve(g,sx,sy,b2CyanX,b2CyanI,'#8fd5d5',5.5);
  
  
  el=curve(g,sx,sy,b2TotalX,b2TotalI,'#0b10e0',5.5);
  
  
  const ax=$('b-axis');
  bTicks.forEach(v=>{
    const t=tickLine(ax,sx(v),1111,sx(v),1132,5);
    
    
    const l=tickText(ax,sx(v),1187,String(v),52,'middle',100);
    
    
  });
  bMinor.forEach(v=>{
    const t=tickLine(ax,sx(v),1111,sx(v),1121,5);
    
    
  });
}

// ---------- panel c
{
  const sx=scale(3460,3560,2349,3286),sy=scale(0,1275,1113,88),g=$('c-series');
  let el;
  el=curve(g,sx,sy,cBlueX,cBlueI,'#1a6ee0',9);
  
  
  el=curve(g,sx,sy,cRedX,cRedI,'#f04445',9);
  
  
  const ax=$('c-axis');
  cTicks.forEach(v=>{
    const t=tickLine(ax,sx(v),1113,sx(v),1128,5);
    
    
    const l=tickText(ax,sx(v),1161,String(v),37,'middle',84);
    
    
  });
  cMinor.forEach(v=>{
    const t=tickLine(ax,sx(v),1113,sx(v),1120,5);
    
    
  });
}

// ---------- panel d
{
  const sx=scale(0,6,176,1610),sy=scale(0,1377,1947,1315);
  ringDots($('d-dots'),sx,sy,dDataR,dDataI,.014,'#8fc0f0','#3d88e2');
  const el=curve($('d-series'),sx,sy,dFitR,dFitI,'#1a6ee0',8);
  
  
  const ax=$('d-axis');
  rTicks.forEach(v=>{
    const t=tickLine(ax,sx(v),1947,sx(v),1969,4);
    
    
  });
  rMinor.forEach(v=>{
    const t=tickLine(ax,sx(v),1947,sx(v),1960,4);
    
    
  });
}

// ---------- panel e
{
  const sx=scale(0,6,173,1608),sy=scale(0,1078,2638,2002);
  ringDots($('e-dots'),sx,sy,eDataR,eDataI,.014,'#f9a9a9','#f16a6a');
  const el=curve($('e-series'),sx,sy,eFitR,eFitI,'#f04445',8);
  
  
  const ax=$('e-axis');
  rTicks.forEach(v=>{
    const t=tickLine(ax,sx(v),2638,sx(v),2655,4);
    
    
    const l=tickText(ax,sx(v),2710,String(v),38,'middle',24);
    
    
  });
  rMinor.forEach(v=>{
    const t=tickLine(ax,sx(v),2638,sx(v),2648,4);
    
    
  });
}

// ---------- wavelet maps
function hermite(xs,ys,x){
  let i=0;
  while(i<xs.length-2&&x>xs[i+1])i++;
  const h=xs[i+1]-xs[i],t=(x-xs[i])/h;
  const m0=i>0?(ys[i+1]-ys[i-1])/(xs[i+1]-xs[i-1]):(ys[i+1]-ys[i])/h;
  const m1=i<xs.length-2?(ys[i+2]-ys[i])/(xs[i+2]-xs[i]):(ys[i+1]-ys[i])/h;
  const t2=t*t,t3=t2*t;
  return (2*t3-3*t2+1)*ys[i]+(t3-2*t2+t)*h*m0+(-2*t3+3*t2)*ys[i+1]+(t3-t2)*h*m1;
}
function hot(t){
  t=Math.max(0,Math.min(1,t));
  let r,g,b;
  if(t<.25){r=48+207*t/.25;g=0;b=0;}
  else if(t<.75){r=255;g=255*(t-.25)/.5;b=0;}
  else{r=255;g=255;b=255*(t-.75)/.25;}
  return 'rgb('+Math.round(r)+','+Math.round(g)+','+Math.round(b)+')';
}
function waveletMap(heatG,contourG,Z,sxInv,syInv,x0,x1,y0,y1){
  const cw=3,ch=3,nx=Math.ceil((x1-x0)/cw),ny=Math.ceil((y1-y0)/ch);
  const W=(x1-x0)/nx,H=(y1-y0)/ny;
  const field=[];
  for(let j=0;j<=ny;j++){
    const r=syInv(y0+j*H);
    const colVals=waveletK.map((_,c)=>hermite(waveletR,Z.map(row=>row[c]),r));
    const row=new Float64Array(nx+1);
    for(let i=0;i<=nx;i++)row[i]=hermite(waveletK,colVals,sxInv(x0+i*W));
    field.push(row);
  }
  const frag=document.createDocumentFragment();
  const bands=64;
  for(let j=0;j<ny;j++){
    let start=0,q=Math.round(Math.max(0,Math.min(1,field[j][0]))*bands);
    for(let i=1;i<=nx;i++){
      const qi=i<nx?Math.round(Math.max(0,Math.min(1,field[j][i]))*bands):-1;
      if(qi!==q){
        const cell=document.createElementNS(NS,'rect');
        cell.setAttribute('x',(x0+start*W).toFixed(1));
        cell.setAttribute('y',(y0+j*H).toFixed(1));
        cell.setAttribute('width',((i-start)*W+.6).toFixed(1));
        cell.setAttribute('height',(H+.6).toFixed(1));
        cell.setAttribute('fill',hot(q/bands));
        
        
        frag.appendChild(cell);
        start=i;q=qi;
      }
    }
  }
  heatG.appendChild(frag);
  contourLevels.forEach(lv=>{
    let d='';
    const lerp=(a,b)=>(lv-a)/(b-a);
    for(let j=0;j<ny;j++)for(let i=0;i<nx;i++){
      const a=field[j][i],b=field[j][i+1],c=field[j+1][i+1],e=field[j+1][i];
      const code=(a>=lv?8:0)|(b>=lv?4:0)|(c>=lv?2:0)|(e>=lv?1:0);
      if(code===0||code===15)continue;
      const X=x0+i*W,Y=y0+j*H;
      const top=()=>[X+lerp(a,b)*W,Y],right=()=>[X+W,Y+lerp(b,c)*H],bottom=()=>[X+lerp(e,c)*W,Y+H],left=()=>[X,Y+lerp(a,e)*H];
      const seg=(p,q)=>{d+='M'+p[0].toFixed(1)+' '+p[1].toFixed(1)+'L'+q[0].toFixed(1)+' '+q[1].toFixed(1);};
      switch(code){
        case 1:case 14:seg(left(),bottom());break;
        case 2:case 13:seg(bottom(),right());break;
        case 3:case 12:seg(left(),right());break;
        case 4:case 11:seg(top(),right());break;
        case 6:case 9:seg(top(),bottom());break;
        case 7:case 8:seg(left(),top());break;
        case 5:seg(left(),top());seg(bottom(),right());break;
        case 10:seg(top(),right());seg(left(),bottom());break;
      }
    }
    const path=node('path',{d:d,fill:'none',stroke:'#555','stroke-width':3,'stroke-linecap':'round'},contourG);
    
    
  });
}
{
  const sxf=scale(0,12,1887,3202),syf=scale(1,5,1996,1349);
  waveletMap($('f-heat'),$('f-contours'),waveletF,scale(1887,3202,0,12),scale(1996,1349,1,5),1887,3202,1349,1996);
  const ax=$('f-axis');
  kTicks.forEach(v=>{
    const t=tickLine(ax,sxf(v),1996,sxf(v),1975,4);
    
    
    const l=tickText(ax,sxf(v),2048,String(v),54,'middle',v>=10?68:34);
    
    
  });
  kMinor.forEach(v=>{
    const t=tickLine(ax,sxf(v),1996,sxf(v),1986,4);
    
    
  });
  rowTicks.forEach(v=>{
    const t=tickLine(ax,1887,syf(v),1862,syf(v),4);
    
    
    const l=tickText(ax,1844,syf(v)+18,String(v),50,'end',36);
    
    
  });
  rowMinor.forEach(v=>{
    const t=tickLine(ax,1887,syf(v),1875,syf(v),4);
    
    
  });
}
{
  const sxg=scale(0,12,1887,3202),syg=scale(1,5,2685,2052);
  waveletMap($('g-heat'),$('g-contours'),waveletG,scale(1887,3202,0,12),scale(2685,2052,1,5),1887,3202,2052,2685);
  const ax=$('g-axis');
  kTicks.forEach(v=>{
    const t=tickLine(ax,sxg(v),2685,sxg(v),2705,4);
    
    
    const l=tickText(ax,sxg(v),2760,String(v),48,'middle',v>=10?68:34);
    
    
  });
  kMinor.forEach(v=>{
    const t=tickLine(ax,sxg(v),2685,sxg(v),2695,4);
    
    
  });
  rowTicks.forEach(v=>{
    const t=tickLine(ax,1887,syg(v),1862,syg(v),4);
    
    
    const l=tickText(ax,1844,syg(v)+16,String(v),46,'end',36);
    
    
  });
  rowMinor.forEach(v=>{
    const t=tickLine(ax,1887,syg(v),1875,syg(v),4);
    
    
  });
}
</script>
</body>
</html>
